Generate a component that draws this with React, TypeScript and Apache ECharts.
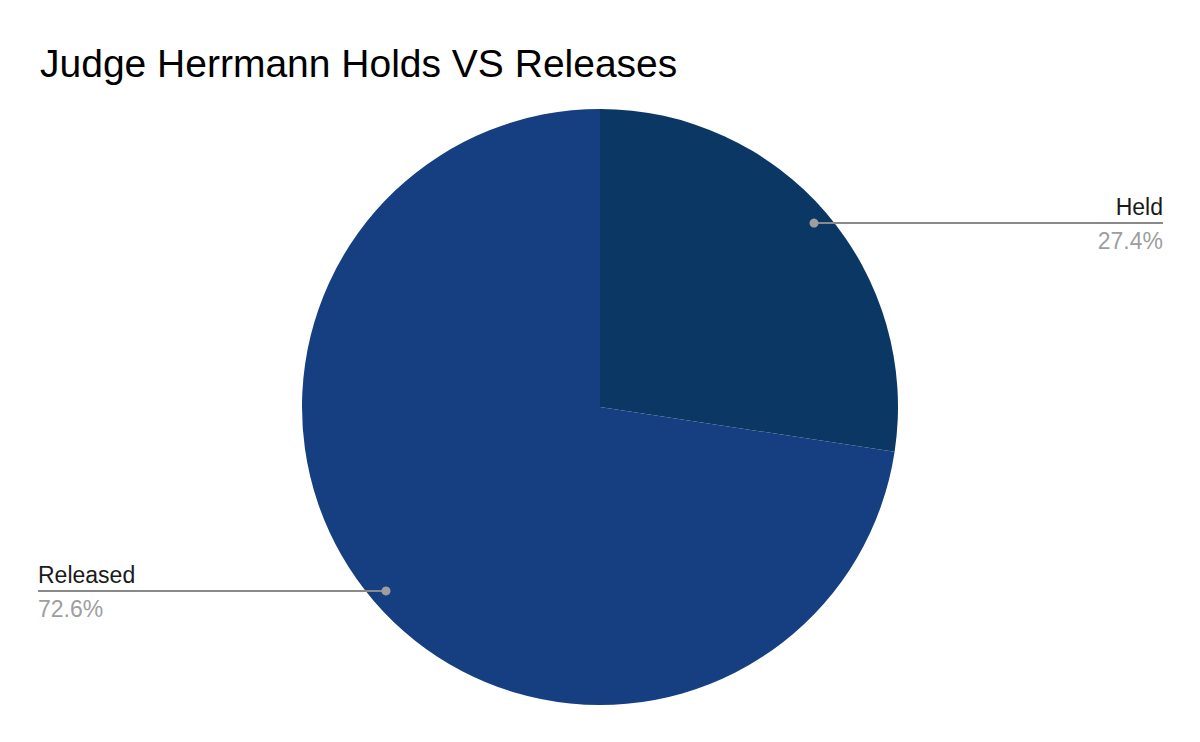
import React, { useEffect, useRef } from "react";
import * as echarts from "echarts";

const title = "Judge Herrmann Holds VS Releases";
const categories = ["Held", "Released"];
const values = [27.4, 72.6];
const colors = ["#0a3764", "#163f82"];

const CX = 600;
const CY = 407;
const R = 298;
const DOT_FRAC = 0.947;
const LABEL_RIGHT = 1163;
const LABEL_LEFT = 38;
const FONT = "'Liberation Sans', Arial, sans-serif";

export default function App() {
  const ref = useRef<HTMLDivElement>(null);
  useEffect(() => {
    document.body.style.margin = "0";
    const chart = echarts.init(ref.current!, null, { renderer: "svg" });
    const total = values.reduce((a, b) => a + b, 0);
    const mids: number[] = [];
    let acc = 0;
    values.forEach((v) => {
      mids.push(((acc + v / 2) / total) * Math.PI * 2);
      acc += v;
    });
    const dots = mids.map((a) => [CX + R * DOT_FRAC * Math.sin(a), CY - R * DOT_FRAC * Math.cos(a)]);
    const fmtPct = (v: number) => ((v / total) * 100).toFixed(1) + "%";

    const guides: any[] = [];
    dots.forEach((d) => {
      const right = d[0] > CX;
      const x0 = right ? d[0] : LABEL_LEFT;
      const w = right ? LABEL_RIGHT - d[0] : d[0] - LABEL_LEFT;
      guides.push({
        type: "rect",
        shape: { x: x0, y: d[1] - 1, width: w, height: 2 },
        style: { fill: "#8a8a8a" },
        z: 100,
        zlevel: 0,
      });
      guides.push({
        type: "circle",
        shape: { cx: d[0], cy: d[1], r: 4.5 },
        style: { fill: "#9e9e9e" },
        z: 101,
      });
    });

    chart.setOption({
      animation: false,
      title: {
        text: title,
        left: 35,
        top: 39,
        textStyle: { fontFamily: FONT, fontSize: 39, fontWeight: "normal", color: "#000" },
      },
      graphic: { elements: guides },
      series: [
        {
          type: "pie",
          center: [CX, CY],
          radius: R,
          startAngle: 90,
          clockwise: true,
          avoidLabelOverlap: false,
          z: 1,
          data: categories.map((c, i) => ({ name: c, value: values[i], itemStyle: { color: colors[i] } })),
          itemStyle: { borderWidth: 0 },
          label: {
            show: true,
            position: "outside",
            formatter: (p: any) => `{n|${p.name}}\n{p|${fmtPct(p.value)}}`,
            rich: {
              n: { fontFamily: FONT, fontSize: 23, color: "#1a1a1a", lineHeight: 34 },
              p: { fontFamily: FONT, fontSize: 23, color: "#9e9e9e", lineHeight: 34 },
            },
          },
          labelLine: { show: false },
          labelLayout: (params: any) => {
            const d = dots[params.dataIndex];
            const right = d[0] > CX;
            return {
              x: right ? LABEL_RIGHT : LABEL_LEFT,
              y: d[1] + 1,
              align: right ? "right" : "left",
              verticalAlign: "middle",
            };
          },
        },
      ],
    });
    return () => chart.dispose();
  }, []);
  return <div ref={ref} style={{ width: 1200, height: 742 }} />;
}
